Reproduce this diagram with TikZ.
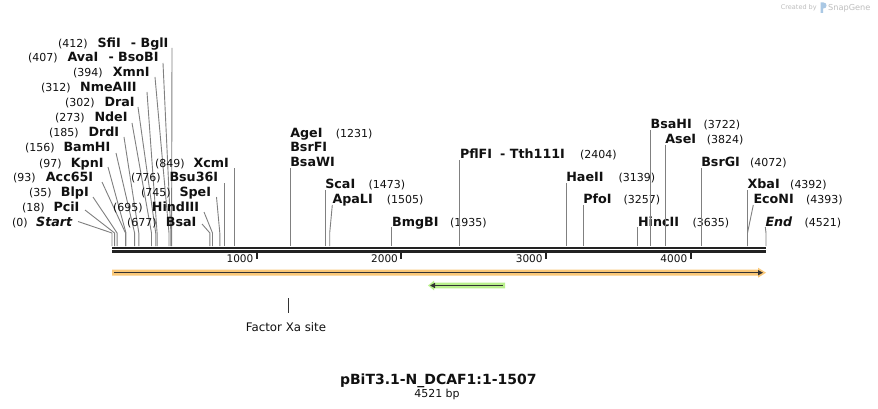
\documentclass[tikz,border=0pt]{standalone}
\usepackage{fontspec}
\setmainfont{DejaVu Sans}
\usetikzlibrary{arrows.meta}
\definecolor{cutgray}{RGB}{128,128,128}
\definecolor{bbcol}{RGB}{34,34,34}
\definecolor{featorange}{RGB}{250,200,120}
\definecolor{featgreen}{RGB}{185,240,140}
\definecolor{featdark}{RGB}{51,51,51}
\definecolor{txt}{RGB}{17,17,17}
\definecolor{sgray}{RGB}{190,190,190}
\definecolor{sblue}{RGB}{170,200,228}
\tikzset{
  enz/.style={inner sep=0pt, font=\fontsize{12.7}{14}\selectfont\bfseries, text=txt},
  num/.style={inner sep=0pt, font=\fontsize{11}{13}\selectfont, text=txt},
  ticklab/.style={inner sep=0pt, font=\fontsize{10.5}{12}\selectfont, text=txt},
  cut/.style={draw=cutgray, line width=0.9pt},
  tickmark/.style={draw=bbcol, line width=2pt},
  featline/.style={draw=featdark, line width=1.5pt},
}
% left-hand labels: id, numx, num, namex, name, y, startx, starty, site
\newcommand{\Lenz}[9]{%
  \node[num, anchor=base west] (#1n) at (#2,#6+4.5) {(#3)};
  \node[enz, anchor=base west] (#1) at (#4,#6+4.6) {#5};
  \coordinate (#1s) at (#7,#8);
  \coordinate (#1k) at (#9,233);
  \coordinate (#1b) at (#9,246);
  \draw[cut] (#1s) -- (#1k) -- (#1b);
}
% right-hand labels: id, namex, name, y, numx, num, topy, site
\newcommand{\Renz}[8]{%
  \node[enz, anchor=base west] (#1) at (#2,#4+4.6) {#3};
  \node[num, anchor=base west] (#1n) at (#5,#4+4.5) {(#6)};
  \coordinate (#1s) at (#2,#7);
  \coordinate (#1k) at (#8,233);
  \coordinate (#1b) at (#8,246);
  \draw[cut] (#1s) -- (#1k) -- (#1b);
}
\begin{document}
\begin{tikzpicture}[x=1pt,y=-1pt]
\useasboundingbox (0,0) rectangle (878,409);
\fill[white] (0,0) rectangle (878,409);

% backbone
\draw[bbcol, line width=2.6pt] (112,247.9) -- (766,247.9);
\draw[bbcol, line width=2.2pt] (112,251.4) -- (766,251.4);

% ticks
\foreach \tx/\tl in {256.7/1000, 401.3/2000, 546/3000, 690.6/4000}{
  \draw[tickmark] (\tx,253) -- (\tx,259);
  \node[ticklab, anchor=base east] (tick\tl) at (\tx-3.2,262.5) {\tl};
}

% left cluster
\Lenz{start}{12}{0}{36}{\textit{Start}}{221.7}{78}{221.5}{112}
\Lenz{pci}{22}{18}{53.3}{PciI}{206.7}{85}{210}{114.6}
\Lenz{blp}{29}{35}{60.7}{BlpI}{191.7}{93}{197}{117.1}
\Lenz{acc}{13}{93}{45.7}{Acc65I}{176.7}{102}{182}{125.5}
\Lenz{kpn}{39}{97}{70.7}{KpnI}{162.7}{108}{167}{126.0}
\Lenz{bam}{25}{156}{63.3}{BamHI}{147.3}{116}{153}{134.6}
\Lenz{drd}{49}{185}{88.3}{DrdI}{131.7}{124}{137}{138.8}
\Lenz{nde}{55}{273}{94.3}{NdeI}{116.7}{132}{123}{151.5}
\Lenz{dra}{65}{302}{104.3}{DraI}{101.7}{138}{107}{155.7}
\Lenz{nme}{41}{312}{80}{NmeAIII}{86.7}{147}{92}{157.1}
\Lenz{xmn}{73}{394}{112.7}{XmnI}{72.3}{155}{77}{169.0}
\Lenz{ava}{28}{407}{67.3}{AvaI}{57.3}{163}{63}{170.9}
\Lenz{sfi}{58}{412}{97.3}{SfiI}{42.7}{172}{48}{171.6}
\node[enz, anchor=base west] (ava2) at (108.3,57.3+4.6) {- BsoBI};
\node[enz, anchor=base west] (sfi2) at (130.7,42.7+4.6) {- BglI};

% middle-left cluster
\Lenz{xcm}{155}{849}{193.3}{XcmI}{162.7}{234.8}{168}{234.8}
\Lenz{bsu}{131}{776}{169.3}{Bsu36I}{176.7}{224.3}{183}{224.3}
\Lenz{spe}{141}{745}{179.3}{SpeI}{191.7}{216.5}{197}{219.8}
\Lenz{hind}{113}{695}{151.7}{HindIII}{206.7}{204}{212}{212.5}
\Lenz{bsa}{127}{677}{165.7}{BsaI}{221.7}{202}{224}{209.9}

% right-hand labels
\Renz{age}{290.1}{AgeI}{132.7}{335.7}{1231}{168}{290.1}
\node[enz, anchor=base west] (bsrf) at (290.1,146.7+4.6) {BsrFI};
\node[enz, anchor=base west] (bsaw) at (290.1,161.7+4.6) {BsaWI};
\Renz{sca}{325.1}{ScaI}{184}{368.5}{1473}{190}{325.1}
\Renz{apa}{332.3}{ApaLI}{199.3}{386.7}{1505}{205}{329.7}
\Renz{bmg}{391.9}{BmgBI}{221.7}{450}{1935}{227}{391.9}
\Renz{pfl}{459.8}{PflFI}{154.3}{580}{2404}{160}{459.8}
\node[enz, anchor=base west] (pfl2) at (500,154.3+4.6) {- Tth111I};
\Renz{hae}{566.1}{HaeII}{176.7}{618.3}{3139}{183}{566.1}
\Renz{pfo}{583.2}{PfoI}{199.3}{623.3}{3257}{205}{583.2}
\Renz{hinc}{637.9}{HincII}{221.7}{692.3}{3635}{227}{637.9}
\Renz{bsah}{650.4}{BsaHI}{124}{703.3}{3722}{130}{650.4}
\Renz{ase}{665.2}{AseI}{139.3}{706.7}{3824}{145}{665.2}
\Renz{bsrg}{701.1}{BsrGI}{161.7}{750}{4072}{168}{701.1}
\Renz{xba}{747.4}{XbaI}{184}{790}{4392}{190}{747.4}
\Renz{eco}{753.3}{EcoNI}{199.3}{806}{4393}{205}{747.5}
\Renz{end}{765.3}{\textit{End}}{221.7}{804.3}{4521}{227}{766}

% orange feature (forward)
\fill[featorange] (112,269.7) -- (758,269.7) -- (758,267.7) -- (766,272.7)
  -- (758,277.7) -- (758,275.7) -- (112,275.7) -- cycle;
\draw[featline, -{Triangle[length=5pt,width=5pt]}] (114,272.7) -- (763,272.7);

% green feature (reverse)
\fill[featgreen] (505,282.7) -- (434,282.7) -- (434,280.7) -- (428,285.5)
  -- (434,290.3) -- (434,288.3) -- (505,288.3) -- cycle;
\draw[featline, -{Triangle[length=5pt,width=5pt]}] (503,285.5) -- (430,285.5);

% Factor Xa site
\draw[featdark, line width=1.4pt] (288.3,298) -- (288.3,313);
\node[inner sep=0pt, font=\fontsize{11.8}{14}\selectfont, text=txt] (fxa) at (286,327) {Factor Xa site};

% title
\node[inner sep=0pt, font=\fontsize{14}{16}\selectfont\bfseries, text=txt, anchor=base] (title) at (438.3,384) {pBiT3.1-N\_DCAF1:1-1507};
\node[inner sep=0pt, font=\fontsize{11}{13}\selectfont, text=txt, anchor=base] (bp) at (437,397.5) {4521 bp};

% watermark
\node[inner sep=0pt, font=\fontsize{6.5}{8}\selectfont, text=sgray, anchor=base west] (cby) at (780.7,10) {Created by};
\fill[sblue] (820.5,2.5) -- (823.5,2.5) .. controls (827.5,2.5) and (827.5,8.5) .. (823.5,8.5)
  -- (823,8.5) -- (823,13) -- (820.5,13) -- cycle;
\node[inner sep=0pt, font=\fontsize{8.2}{10}\selectfont, text=sgray, anchor=base west] (sg) at (828,10.3) {SnapGene};
\end{tikzpicture}
\end{document}
